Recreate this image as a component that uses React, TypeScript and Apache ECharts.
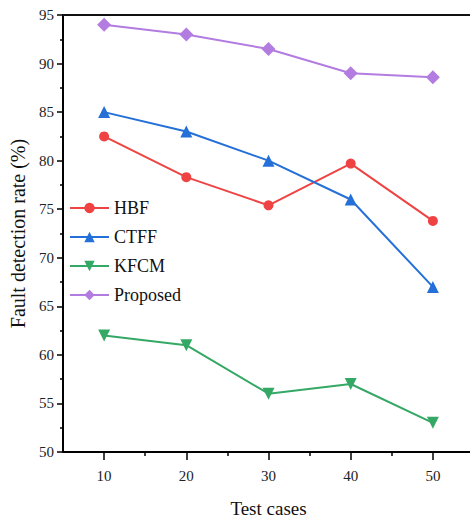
import React, { useEffect, useRef } from "react";
import * as echarts from "echarts";

const testCases = [10, 20, 30, 40, 50];
const hbf = [82.5, 78.3, 75.4, 79.7, 73.8];
const ctff = [85, 83, 80, 76, 67];
const kfcm = [62, 61, 56, 57, 53];
const proposed = [94, 93, 91.5, 89, 88.6];
const majorXTicks = [10, 20, 30, 40, 50];
const minorXTicks = [15, 25, 35, 45];

const FONT = "Liberation Serif";

export default function App() {
  const ref = useRef<HTMLDivElement>(null);
  useEffect(() => {
    if (!ref.current) return;
    const chart = echarts.init(ref.current, null, { renderer: "svg" });
    const mk = (name: string, vals: number[], color: string, symbol: string, size: number) => ({
      name,
      type: "line",
      data: testCases.map((x, i) => [x, vals[i]]),
      symbol,
      symbolSize: size,
      lineStyle: { color, width: 2 },
      itemStyle: { color },
      xAxisIndex: 0,
      yAxisIndex: 0,
    });
    chart.setOption({
      animation: false,
      backgroundColor: "#ffffff",
      textStyle: { fontFamily: FONT },
      grid: { left: 56, right: 6, top: 15, bottom: 70, containLabel: false },
      legend: {
        left: 69,
        top: 199,
        padding: 0,
        orient: "vertical",
        itemWidth: 39,
        itemHeight: 13,
        itemGap: 11,
        textStyle: { fontFamily: FONT, fontSize: 18, color: "#111" },
        data: ["HBF", "CTFF", "KFCM", "Proposed"],
      },
      xAxis: [
        {
          type: "value",
          min: 5,
          max: 55,
          interval: 5,
          name: "Test cases",
          nameLocation: "middle",
          nameGap: 47,
          nameTextStyle: { fontFamily: FONT, fontSize: 19, color: "#111" },
          axisLine: { show: true, onZero: false, lineStyle: { color: "#000", width: 2 } },
          axisTick: { show: true, length: 8, customValues: majorXTicks, lineStyle: { color: "#000", width: 1.5 } },
          axisLabel: { customValues: majorXTicks, fontFamily: FONT, fontSize: 15, color: "#222", margin: 16 },
          splitLine: { show: false },
        },
        {
          type: "value",
          min: 5,
          max: 55,
          interval: 5,
          position: "bottom",
          axisLine: { show: false },
          axisTick: { show: true, length: 4, customValues: minorXTicks, lineStyle: { color: "#000", width: 1.5 } },
          axisLabel: { show: false },
          splitLine: { show: false },
        },
        {
          type: "value",
          min: 5,
          max: 55,
          position: "top",
          axisLine: { show: true, lineStyle: { color: "#111", width: 2 } },
          axisTick: { show: false },
          axisLabel: { show: false },
          splitLine: { show: false },
        },
      ],
      yAxis: {
        type: "value",
        min: 50,
        max: 95,
        interval: 5,
        name: "Fault detection rate (%)",
        nameLocation: "middle",
        nameGap: 35,
        nameTextStyle: { fontFamily: FONT, fontSize: 20, color: "#111" },
        axisLine: { show: true, lineStyle: { color: "#000", width: 2 } },
        axisTick: { show: true, length: 6, lineStyle: { color: "#000", width: 1.5 } },
        minorTick: { show: true, splitNumber: 2, length: 3, lineStyle: { color: "#000", width: 1.5 } },
        axisLabel: { fontFamily: FONT, fontSize: 15, color: "#222", margin: 9 },
        splitLine: { show: false },
      },
      series: [
        mk("HBF", hbf, "#ef4343", "circle", 10),
        mk("CTFF", ctff, "#2470d8", "triangle", 12),
        mk("KFCM", kfcm, "#34a865", "path://M0,0 L10,0 L5,10 Z", 12),
        mk("Proposed", proposed, "#b27ce0", "diamond", 14),
      ],
    });
    return () => chart.dispose();
  }, []);
  return (
    <div style={{ position: "fixed", left: 0, top: 0, width: 470, height: 523, overflow: "hidden", background: "#fff" }}>
      <div ref={ref} style={{ width: 480, height: 523 }} />
    </div>
  );
}
